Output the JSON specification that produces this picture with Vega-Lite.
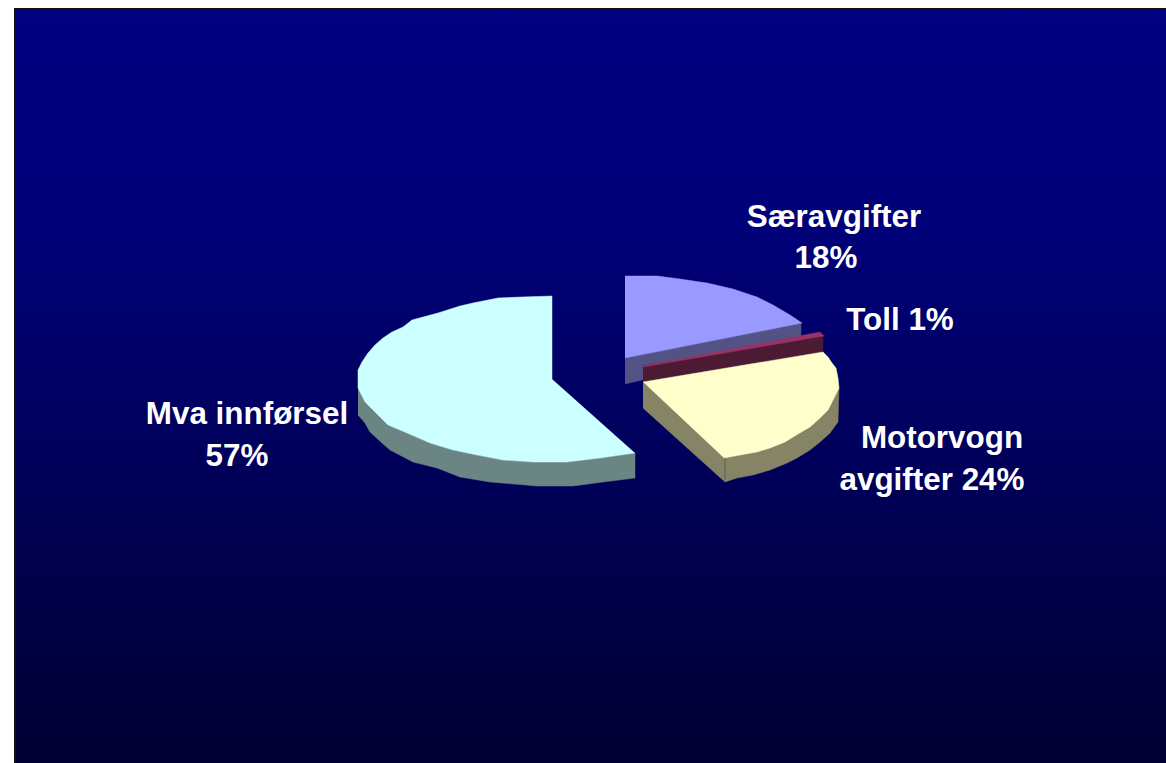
{"$schema":"https://vega.github.io/schema/vega-lite/v6.json","autosize":{"type":"fit","contains":"padding"},"width":1166,"height":763,"padding":0,"background":"white","config":{"view":{"stroke":null}},
"datasets":{"panel":[{"x0":14,"x1":1166,"y0":8,"y1":763,"xa":16,"ya":9}],
"labels":[{"t":"Særavgifter","x":834,"y":217.5},{"t":"18%","x":826,"y":259},{"t":"Toll 1%","x":900,"y":321},{"t":"Motorvogn","x":942,"y":439},{"t":"avgifter 24%","x":932,"y":481},{"t":"Mva innførsel","x":247,"y":415},{"t":"57%","x":237,"y":457}],
"outline":[
{"p":"ps","i":0,"x":625,"y":358},{"p":"ps","i":1,"x":801,"y":323},{"p":"ps","i":2,"x":801,"y":343},{"p":"ps","i":3,"x":625,"y":384},
{"p":"pt","i":0,"x":625,"y":276},{"p":"pt","i":1,"x":657,"y":276},{"p":"pt","i":2,"x":680,"y":279},{"p":"pt","i":3,"x":707,"y":283},{"p":"pt","i":4,"x":733,"y":289},{"p":"pt","i":5,"x":757,"y":297},{"p":"pt","i":6,"x":773,"y":305},{"p":"pt","i":7,"x":790,"y":315},{"p":"pt","i":8,"x":802,"y":323},{"p":"pt","i":9,"x":625,"y":358},
{"p":"ts","i":0,"x":643,"y":366},{"p":"ts","i":1,"x":823,"y":336},{"p":"ts","i":2,"x":823,"y":353},{"p":"ts","i":3,"x":643,"y":382},
{"p":"tt","i":0,"x":643,"y":366},{"p":"tt","i":1,"x":820,"y":332},{"p":"tt","i":2,"x":824,"y":336},{"p":"tt","i":3,"x":643,"y":367},
{"p":"ms","i":0,"x":643,"y":382},{"p":"ms","i":1,"x":725,"y":458},{"p":"ms","i":2,"x":725,"y":482},{"p":"ms","i":3,"x":643,"y":408},
{"p":"mr","i":0,"x":725,"y":458},{"p":"mr","i":1,"x":839,"y":388},{"p":"mr","i":2,"x":838,"y":422},{"p":"mr","i":3,"x":830,"y":433},{"p":"mr","i":4,"x":820,"y":442},{"p":"mr","i":5,"x":810,"y":450},{"p":"mr","i":6,"x":797,"y":458},{"p":"mr","i":7,"x":787,"y":463},{"p":"mr","i":8,"x":770,"y":470},{"p":"mr","i":9,"x":753,"y":475},{"p":"mr","i":10,"x":737,"y":478},{"p":"mr","i":11,"x":725,"y":482},
{"p":"mt","i":0,"x":643,"y":382},{"p":"mt","i":1,"x":823,"y":352},{"p":"mt","i":2,"x":828,"y":357},{"p":"mt","i":3,"x":832,"y":363},{"p":"mt","i":4,"x":836,"y":368},{"p":"mt","i":5,"x":838,"y":378},{"p":"mt","i":6,"x":839,"y":388},{"p":"mt","i":7,"x":833,"y":400},{"p":"mt","i":8,"x":828,"y":410},{"p":"mt","i":9,"x":820,"y":418},{"p":"mt","i":10,"x":810,"y":427},{"p":"mt","i":11,"x":798,"y":434},{"p":"mt","i":12,"x":785,"y":442},{"p":"mt","i":13,"x":770,"y":448},{"p":"mt","i":14,"x":757,"y":452},{"p":"mt","i":15,"x":740,"y":455},{"p":"mt","i":16,"x":724,"y":458},
{"p":"vs","i":0,"x":358,"y":388},{"p":"vs","i":1,"x":365,"y":402},{"p":"vs","i":2,"x":378,"y":415},{"p":"vs","i":3,"x":388,"y":425},{"p":"vs","i":4,"x":407,"y":433},{"p":"vs","i":5,"x":430,"y":443},{"p":"vs","i":6,"x":453,"y":450},{"p":"vs","i":7,"x":477,"y":455},{"p":"vs","i":8,"x":503,"y":460},{"p":"vs","i":9,"x":533,"y":462},{"p":"vs","i":10,"x":567,"y":462},{"p":"vs","i":11,"x":600,"y":458},{"p":"vs","i":12,"x":635,"y":453},{"p":"vs","i":13,"x":635,"y":478},{"p":"vs","i":14,"x":603,"y":482},{"p":"vs","i":15,"x":573,"y":486},{"p":"vs","i":16,"x":537,"y":486},{"p":"vs","i":17,"x":490,"y":482},{"p":"vs","i":18,"x":460,"y":477},{"p":"vs","i":19,"x":437,"y":468},{"p":"vs","i":20,"x":413,"y":462},{"p":"vs","i":21,"x":390,"y":450},{"p":"vs","i":22,"x":382,"y":443},{"p":"vs","i":23,"x":370,"y":432},{"p":"vs","i":24,"x":365,"y":423},{"p":"vs","i":25,"x":358,"y":415},
{"p":"vt","i":0,"x":552,"y":379},{"p":"vt","i":1,"x":552,"y":296},{"p":"vt","i":2,"x":522,"y":297},{"p":"vt","i":3,"x":498,"y":298},{"p":"vt","i":4,"x":473,"y":303},{"p":"vt","i":5,"x":460,"y":306},{"p":"vt","i":6,"x":438,"y":313},{"p":"vt","i":7,"x":412,"y":320},{"p":"vt","i":8,"x":403,"y":327},{"p":"vt","i":9,"x":392,"y":332},{"p":"vt","i":10,"x":383,"y":338},{"p":"vt","i":11,"x":375,"y":345},{"p":"vt","i":12,"x":368,"y":353},{"p":"vt","i":13,"x":362,"y":362},{"p":"vt","i":14,"x":358,"y":370},{"p":"vt","i":15,"x":358,"y":388},{"p":"vt","i":16,"x":365,"y":402},{"p":"vt","i":17,"x":378,"y":415},{"p":"vt","i":18,"x":388,"y":425},{"p":"vt","i":19,"x":407,"y":433},{"p":"vt","i":20,"x":430,"y":443},{"p":"vt","i":21,"x":453,"y":450},{"p":"vt","i":22,"x":477,"y":455},{"p":"vt","i":23,"x":503,"y":460},{"p":"vt","i":24,"x":533,"y":462},{"p":"vt","i":25,"x":567,"y":462},{"p":"vt","i":26,"x":600,"y":458},{"p":"vt","i":27,"x":635,"y":453},
{"p":"dv","i":0,"x":725,"y":458},{"p":"dv","i":1,"x":725,"y":482}
]},
"layer":[
{"data":{"name":"panel"},"mark":{"type":"rect","fill":"#111111"},"encoding":{"x":{"field":"x0","type":"quantitative","scale":{"domain":[0,1166],"nice":false,"zero":false},"axis":null},"x2":{"field":"x1"},"y":{"field":"y0","type":"quantitative","scale":{"domain":[763,0],"nice":false,"zero":false},"axis":null},"y2":{"field":"y1"}}},
{"data":{"name":"panel"},"mark":{"type":"rect","fill":{"gradient":"linear","x1":0,"y1":0,"x2":0,"y2":1,"stops":[{"offset":0,"color":"#000080"},{"offset":0.3,"color":"#000078"},{"offset":1,"color":"#000033"}]}},"encoding":{"x":{"field":"xa","type":"quantitative"},"x2":{"field":"x1"},"y":{"field":"ya","type":"quantitative"},"y2":{"field":"y1"}}},
{"data":{"name":"outline"},"transform":[{"filter":"datum.p==='ps'"}],"mark":{"type":"line","fill":"#525285","stroke":"#525285","strokeWidth":0.5},"encoding":{"x":{"field":"x","type":"quantitative"},"y":{"field":"y","type":"quantitative"},"order":{"field":"i"}}},
{"data":{"name":"outline"},"transform":[{"filter":"datum.p==='pt'"}],"mark":{"type":"line","fill":"#9999FF","stroke":"#9999FF","strokeWidth":0.5},"encoding":{"x":{"field":"x","type":"quantitative"},"y":{"field":"y","type":"quantitative"},"order":{"field":"i"}}},
{"data":{"name":"outline"},"transform":[{"filter":"datum.p==='ts'"}],"mark":{"type":"line","fill":"#4D1A33","stroke":"#4D1A33","strokeWidth":0.5},"encoding":{"x":{"field":"x","type":"quantitative"},"y":{"field":"y","type":"quantitative"},"order":{"field":"i"}}},
{"data":{"name":"outline"},"transform":[{"filter":"datum.p==='tt'"}],"mark":{"type":"line","fill":"#993366","stroke":"#993366","strokeWidth":0.5},"encoding":{"x":{"field":"x","type":"quantitative"},"y":{"field":"y","type":"quantitative"},"order":{"field":"i"}}},
{"data":{"name":"outline"},"transform":[{"filter":"datum.p==='ms'"}],"mark":{"type":"line","fill":"#858566","stroke":"#858566","strokeWidth":0.5},"encoding":{"x":{"field":"x","type":"quantitative"},"y":{"field":"y","type":"quantitative"},"order":{"field":"i"}}},
{"data":{"name":"outline"},"transform":[{"filter":"datum.p==='mr'"}],"mark":{"type":"line","fill":"#858566","stroke":"#858566","strokeWidth":0.5},"encoding":{"x":{"field":"x","type":"quantitative"},"y":{"field":"y","type":"quantitative"},"order":{"field":"i"}}},
{"data":{"name":"outline"},"transform":[{"filter":"datum.p==='dv'"}],"mark":{"type":"line","stroke":"#5F5F55","strokeWidth":1},"encoding":{"x":{"field":"x","type":"quantitative"},"y":{"field":"y","type":"quantitative"},"order":{"field":"i"}}},
{"data":{"name":"outline"},"transform":[{"filter":"datum.p==='mt'"}],"mark":{"type":"line","fill":"#FFFFCC","stroke":"#FFFFCC","strokeWidth":0.5},"encoding":{"x":{"field":"x","type":"quantitative"},"y":{"field":"y","type":"quantitative"},"order":{"field":"i"}}},
{"data":{"name":"outline"},"transform":[{"filter":"datum.p==='vs'"}],"mark":{"type":"line","fill":"#6A8583","stroke":"#6A8583","strokeWidth":0.5},"encoding":{"x":{"field":"x","type":"quantitative"},"y":{"field":"y","type":"quantitative"},"order":{"field":"i"}}},
{"data":{"name":"outline"},"transform":[{"filter":"datum.p==='vt'"}],"mark":{"type":"line","fill":"#CCFFFF","stroke":"#CCFFFF","strokeWidth":0.5},"encoding":{"x":{"field":"x","type":"quantitative"},"y":{"field":"y","type":"quantitative"},"order":{"field":"i"}}},
{"data":{"name":"labels"},"mark":{"type":"text","font":"Liberation Sans","fontWeight":"bold","fontSize":31.4,"color":"white","align":"center","baseline":"middle"},"encoding":{"x":{"field":"x","type":"quantitative"},"y":{"field":"y","type":"quantitative"},"text":{"field":"t"}}}
]}
